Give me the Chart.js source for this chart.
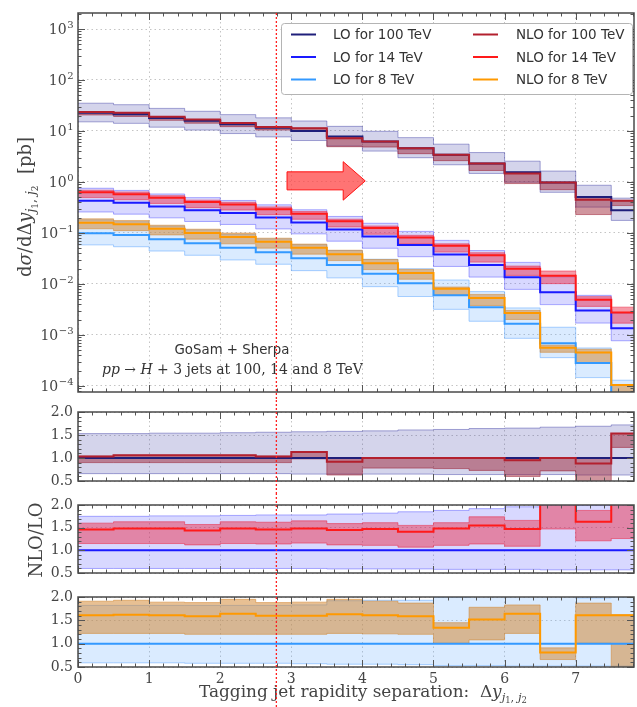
<!DOCTYPE html>
<html lang="en">
<head>
<meta charset="UTF-8">
<title>H + 3 jets: tagging jet rapidity separation</title>
<script src="https://cdn.jsdelivr.net/npm/chart.js"></script>
<style>
  html, body { margin: 0; padding: 0; background: #fff; }
  #wrap { position: relative; width: 637px; height: 707px; overflow: hidden; }
  .panel { position: absolute; left: 0; width: 637px; }
  .panel canvas { display: block; }
</style>
</head>
<body>
<div id="wrap">
  <div class="panel" style="top:0;height:400px"><canvas id="main"></canvas></div>
  <div class="panel" style="top:400px;height:93px"><canvas id="r100"></canvas></div>
  <div class="panel" style="top:493px;height:92px"><canvas id="r14"></canvas></div>
  <div class="panel" style="top:585px;height:122px"><canvas id="r8"></canvas></div>
</div>

<script>
// bin edges of the Δy histogram (0.5 wide)
const edges = [0, 0.5, 1, 1.5, 2, 2.5, 3, 3.5, 4, 4.5, 5, 5.5, 6, 6.5, 7, 7.5, 8];
const xLabels = [0, 1, 2, 3, 4, 5, 6, 7];

// LO central values, dσ/dΔy [pb]
const lo100 = [22.9, 21.4, 18.0, 15.8, 13.5, 11.6, 10.0, 7.8, 6.2, 4.6, 3.4, 2.3, 1.55, 0.98, 0.51, 0.28];
const lo14  = [0.43, 0.39, 0.33, 0.28, 0.245, 0.20, 0.16, 0.117, 0.085, 0.058, 0.038, 0.0235, 0.0135, 0.0069, 0.0030, 0.00135];
const lo8   = [0.099, 0.091, 0.075, 0.063, 0.051, 0.042, 0.032, 0.0235, 0.0158, 0.0103, 0.0060, 0.0035, 0.00165, 0.00069, 0.00028, 0.000065];

// NLO / LO (central)
const nlo100 = [1.03, 1.06, 1.06, 1.06, 1.06, 1.03, 1.13, 0.92, 1.00, 1.00, 1.00, 1.00, 0.95, 1.00, 0.88, 1.53];
const nlo14  = [1.46, 1.48, 1.48, 1.44, 1.48, 1.46, 1.48, 1.45, 1.47, 1.41, 1.48, 1.55, 1.47, 2.10, 1.63, 2.05];
const nlo8   = [1.61, 1.62, 1.61, 1.59, 1.64, 1.60, 1.60, 1.63, 1.61, 1.59, 1.34, 1.52, 1.64, 0.81, 1.61, 1.61];

// scale-variation bands, relative to the LO central value
const loLo100  = [0.66, 0.66, 0.66, 0.66, 0.66, 0.66, 0.65, 0.65, 0.65, 0.65, 0.64, 0.64, 0.64, 0.64, 0.63, 0.63];
const loHi100  = [1.53, 1.53, 1.54, 1.54, 1.55, 1.56, 1.57, 1.58, 1.59, 1.61, 1.62, 1.64, 1.65, 1.67, 1.69, 1.72];
const nloLo100 = [0.90, 0.90, 0.90, 0.90, 0.90, 0.90, 0.98, 0.63, 0.78, 0.78, 0.77, 0.73, 0.60, 0.72, 0.45, 1.23];
const nloHi100 = [1.04, 1.06, 1.06, 1.06, 1.06, 1.04, 1.14, 1.00, 1.00, 1.00, 1.00, 1.00, 1.00, 1.00, 1.00, 1.53];

const loLo14  = [0.60, 0.60, 0.60, 0.60, 0.60, 0.60, 0.60, 0.59, 0.59, 0.59, 0.58, 0.58, 0.58, 0.57, 0.57, 0.57];
const loHi14  = [1.75, 1.75, 1.76, 1.76, 1.77, 1.78, 1.78, 1.80, 1.82, 1.85, 1.88, 1.92, 1.96, 2.00, 1.99, 2.00];
const nloLo14 = [1.15, 1.15, 1.15, 1.12, 1.15, 1.14, 1.16, 1.12, 1.11, 1.07, 1.11, 1.14, 1.09, 1.47, 1.21, 1.26];
const nloHi14 = [1.60, 1.63, 1.63, 1.57, 1.63, 1.62, 1.65, 1.59, 1.61, 1.55, 1.61, 1.74, 1.66, 2.60, 1.88, 2.60];

const loLo8  = [0.59, 0.59, 0.59, 0.58, 0.58, 0.58, 0.57, 0.56, 0.56, 0.55, 0.53, 0.53, 0.52, 0.52, 0.52, 0.52];
const loHi8  = [1.82, 1.82, 1.82, 1.82, 1.82, 1.82, 1.83, 1.92, 1.93, 1.93, 1.99, 2.02, 2.05, 2.05, 1.98, 1.99];
const nloLo8 = [1.22, 1.22, 1.22, 1.20, 1.20, 1.20, 1.20, 1.22, 1.21, 1.20, 1.01, 1.08, 1.22, 0.66, 1.01, 0.30];
const nloHi8 = [1.91, 1.93, 1.89, 1.88, 1.95, 1.88, 1.89, 1.95, 1.91, 1.87, 1.45, 1.78, 1.83, 0.91, 1.87, 1.62];

const XMAX = 7.82;
const CUT = 2.79;          // red dotted line
const YMIN = 7.6e-5, YMAX = 2060;
const arrow = { tail: 2.94, neck: 3.73, tip: 4.04, bodyLo: 0.70, bodyHi: 1.58, headLo: 0.44, headHi: 2.5 };

const C = {
  lo100:  { line: '#1f1f7a', band: 'rgba(60,60,165,0.22)',   edge: 'rgba(60,60,165,0.45)' },
  lo14:   { line: '#1a1aff', band: 'rgba(90,90,255,0.24)',   edge: 'rgba(90,90,255,0.5)' },
  lo8:    { line: '#3399ff', band: 'rgba(100,170,255,0.24)', edge: 'rgba(100,170,255,0.55)' },
  nlo100: { line: '#b3202e', band: 'rgba(150,20,40,0.45)',   edge: 'rgba(150,20,40,0.5)' },
  nlo14:  { line: '#ff1a1a', band: 'rgba(235,30,60,0.45)',   edge: 'rgba(235,30,60,0.5)' },
  nlo8:   { line: '#ff9900', band: 'rgba(210,130,40,0.5)',   edge: 'rgba(210,130,40,0.5)' }
};

const SERIF = 'DejaVu Serif';
const SANS = 'DejaVu Sans';

// histogram points: left bin edge + value, closing point at the last edge
function pts(vals, scale) {
  const out = vals.map((v, i) => ({ x: edges[i], y: scale ? v * scale[i] : v }));
  out.push({ x: edges[edges.length - 1], y: out[out.length - 1].y });
  return out;
}

function stepLine(data, color, width, order, extra) {
  return Object.assign({ data, borderColor: color, borderWidth: width, stepped: true,
    pointRadius: 0, fill: false, order }, extra || {});
}

function bandSets(upper, lower, c, order) {
  return [
    stepLine(upper, c.edge, 1, order, { fill: '+1', backgroundColor: c.band }),
    stepLine(lower, c.edge, 1, order)
  ];
}

// rich text (sub/superscripts, italics)
function fontOf(p, fam, k) {
  return (p.i ? 'italic ' : '') + (p.s * k) + 'px "' + (p.f || fam) + '"';
}
function richWidth(ctx, parts, fam, k) {
  let w = 0;
  parts.forEach(p => { ctx.font = fontOf(p, fam, k); w += ctx.measureText(p.t).width; });
  return w;
}
function drawRich(ctx, parts, fam, x, y, fitWidth, align) {
  const k = fitWidth ? fitWidth / richWidth(ctx, parts, fam, 1) : 1;
  const w = richWidth(ctx, parts, fam, k);
  let cx = align === 'center' ? x - w / 2 : x;
  ctx.textAlign = 'left';
  ctx.textBaseline = 'alphabetic';
  parts.forEach(p => {
    ctx.font = fontOf(p, fam, k);
    ctx.fillText(p.t, cx, y + (p.dy || 0) * k);
    cx += ctx.measureText(p.t).width;
  });
}

const subJ = [
  { t: 'j', s: 11, i: true, dy: 4 }, { t: '1', s: 8, dy: 6 }, { t: ', ', s: 11, dy: 4 },
  { t: 'j', s: 11, i: true, dy: 4 }, { t: '2', s: 8, dy: 6 }
];
const yTitle = [{ t: 'd', s: 16 }, { t: 'σ', s: 16, i: true }, { t: '/d', s: 16 }, { t: 'Δ', s: 16 },
  { t: 'y', s: 16, i: true }, ...subJ, { t: '  [pb]', s: 16 }];
const xTitle = [{ t: 'Tagging jet rapidity separation:  Δ', s: 16 }, { t: 'y', s: 16, i: true }, ...subJ];
const procLine = [{ t: 'pp', s: 14, i: true }, { t: ' → ', s: 14 }, { t: 'H', s: 14, i: true },
  { t: ' + 3 jets at 100, 14 and 8 TeV', s: 14 }];

// minor/major tick positions
const mainYTicks = [];
for (let e = -5; e <= 3; e++) {
  for (let m = 1; m <= 9; m++) {
    const v = m * Math.pow(10, e);
    if (v >= YMIN && v <= YMAX) mainYTicks.push([v, m === 1]);
  }
}
const ratioYTicks = [];
for (let k = 5; k <= 20; k++) ratioYTicks.push([k / 10, k % 5 === 0]);

const decorPlugin = {
  id: 'decor',
  afterDraw(chart, args, o) {
    const { ctx, chartArea: a, scales: { x, y } } = chart;
    ctx.save();

    // inward ticks on all four sides
    ctx.strokeStyle = '#555';
    ctx.lineWidth = 1;
    ctx.beginPath();
    for (let k = 0; k <= Math.floor(XMAX * 5); k++) {
      const px = Math.round(x.getPixelForValue(k / 5)) + 0.5;
      const len = k % 5 === 0 ? 7 : 3.5;
      ctx.moveTo(px, a.bottom); ctx.lineTo(px, a.bottom - len);
      ctx.moveTo(px, a.top); ctx.lineTo(px, a.top + len);
    }
    o.yTicks.forEach(([v, major]) => {
      const py = Math.round(y.getPixelForValue(v)) + 0.5;
      const len = major ? 7 : 3.5;
      ctx.moveTo(a.left, py); ctx.lineTo(a.left + len, py);
      ctx.moveTo(a.right, py); ctx.lineTo(a.right - len, py);
    });
    ctx.stroke();

    ctx.lineWidth = 1.5;
    ctx.strokeStyle = '#4a4a4a';
    ctx.strokeRect(a.left, a.top, a.right - a.left, a.bottom - a.top);

    ctx.fillStyle = '#444';
    if (o.main) {
      // log tick labels 10^n
      for (let e = -4; e <= 3; e++) {
        const py = y.getPixelForValue(Math.pow(10, e));
        const ex = e < 0 ? '−' + (-e) : String(e);
        ctx.font = '10px "' + SERIF + '"';
        const wE = ctx.measureText(ex).width;
        ctx.font = '14px "' + SERIF + '"';
        const wB = ctx.measureText('10').width;
        const x0 = a.left - 5 - wE - wB;
        ctx.textAlign = 'left';
        ctx.textBaseline = 'alphabetic';
        ctx.fillText('10', x0, py + 5);
        ctx.font = '10px "' + SERIF + '"';
        ctx.fillText(ex, x0 + wB + 0.5, py - 1);
      }

      // axis title
      ctx.save();
      ctx.translate(31, 207);
      ctx.rotate(-Math.PI / 2);
      drawRich(ctx, yTitle, SERIF, 0, 0, 140, 'center');
      ctx.restore();

      // red arrow
      const ax = v => x.getPixelForValue(v), ay = v => y.getPixelForValue(v);
      const xt = ax(arrow.tail), xn = ax(arrow.neck), xp = ax(arrow.tip);
      const b1 = ay(arrow.bodyHi), b2 = ay(arrow.bodyLo), h1 = ay(arrow.headHi), h2 = ay(arrow.headLo);
      ctx.beginPath();
      ctx.moveTo(xt, b1); ctx.lineTo(xn, b1); ctx.lineTo(xn, h1); ctx.lineTo(xp, (h1 + h2) / 2);
      ctx.lineTo(xn, h2); ctx.lineTo(xn, b2); ctx.lineTo(xt, b2); ctx.closePath();
      ctx.fillStyle = 'rgba(255,70,70,0.75)';
      ctx.fill();
      ctx.strokeStyle = '#ff1010';
      ctx.lineWidth = 1;
      ctx.stroke();

      // process labels
      ctx.fillStyle = '#333';
      drawRich(ctx, [{ t: 'GoSam + Sherpa', s: 13 }], SANS, 232, 354, 115, 'center');
      drawRich(ctx, procLine, SERIF, 102, 374, 261, 'left');

      // legend
      ctx.fillStyle = '#fff';
      ctx.strokeStyle = '#b4b4b4';
      ctx.lineWidth = 1;
      ctx.beginPath();
      ctx.roundRect(281.5, 23.5, 351, 71, 3);
      ctx.fill();
      ctx.stroke();
      const items = chart.data.datasets.filter(d => d.label);
      items.forEach((d, i) => {
        const col = Math.floor(i / 3), row = i % 3;
        const lx = col ? 473 : 291, tx = col ? 516 : 333, ly = 34.5 + row * 22.5;
        ctx.strokeStyle = d.borderColor;
        ctx.lineWidth = 2;
        ctx.beginPath(); ctx.moveTo(lx, ly); ctx.lineTo(lx + 25, ly); ctx.stroke();
        ctx.fillStyle = '#333';
        ctx.font = '13.5px "' + SANS + '"';
        ctx.textBaseline = 'middle';
        ctx.fillText(d.label, tx, ly + 1);
      });
    }

    if (o.ratioTitle) {
      ctx.save();
      ctx.fillStyle = '#444';
      ctx.translate(42, 47);
      ctx.rotate(-Math.PI / 2);
      drawRich(ctx, [{ t: 'NLO/LO', s: 18 }], SERIF, 0, 0, 75, 'center');
      ctx.restore();
    }

    if (o.xTitle) {
      ctx.fillStyle = '#444';
      drawRich(ctx, xTitle, SERIF, 363, 112, 328, 'center');
    }

    // red dotted separation line
    const cx = x.getPixelForValue(CUT);
    ctx.setLineDash([2, 2]);
    ctx.strokeStyle = '#ff2020';
    ctx.lineWidth = 1.3;
    ctx.beginPath();
    ctx.moveTo(cx, o.main ? a.top : 0);
    ctx.lineTo(cx, chart.height);
    ctx.stroke();

    ctx.restore();
  }
};

const gridOpts = { color: '#c4c4c4', lineWidth: 1, drawTicks: false };
const borderOpts = { display: false, dash: [1.5, 3] };

function makeChart(id, datasets, yScale, pad, decor, showX) {
  return new Chart(document.getElementById(id), {
    type: 'line',
    data: { datasets },
    options: {
      responsive: true,
      maintainAspectRatio: false,
      animation: false,
      devicePixelRatio: 1,
      events: [],
      layout: { padding: Object.assign({ left: 0, right: 3 }, pad) },
      plugins: { legend: { display: false }, tooltip: { enabled: false }, decor },
      scales: {
        x: {
          type: 'linear', min: 0, max: XMAX,
          afterBuildTicks: s => { s.ticks = xLabels.map(v => ({ value: v })); },
          afterFit: s => { s.height = showX ? 40 : 0; },
          grid: gridOpts, border: borderOpts,
          ticks: { display: showX, autoSkip: false, maxRotation: 0, padding: 4,
            font: { family: SERIF, size: 14 }, color: '#444', callback: v => String(v) }
        },
        y: yScale
      }
    },
    plugins: [decorPlugin]
  });
}

function ratioY() {
  return {
    type: 'linear', min: 0.5, max: 2.0,
    afterBuildTicks: s => { s.ticks = [0.5, 1.0, 1.5, 2.0].map(v => ({ value: v })); },
    afterFit: s => { s.width = 78; },
    grid: gridOpts, border: borderOpts,
    ticks: { padding: 5, font: { family: SERIF, size: 14, lineHeight: 1 }, color: '#444',
      callback: v => v.toFixed(1) }
  };
}

function ratioSets(loLo, loHi, nloLo, nloHi, nlo, cLo, cNlo) {
  return [
    ...bandSets(pts(loHi), pts(loLo), cLo, 6),
    ...bandSets(pts(nloHi), pts(nloLo), cNlo, 5),
    stepLine(edges.map(x => ({ x, y: 1 })), cLo.line, 2, 2),
    stepLine(pts(nlo), cNlo.line, 2, 1)
  ];
}

// main panel
const mainSets = [
  ...bandSets(pts(loHi100, lo100), pts(loLo100, lo100), C.lo100, 6),
  ...bandSets(pts(loHi14, lo14), pts(loLo14, lo14), C.lo14, 6),
  ...bandSets(pts(loHi8, lo8), pts(loLo8, lo8), C.lo8, 6),
  ...bandSets(pts(nloHi100, lo100), pts(nloLo100, lo100), C.nlo100, 5),
  ...bandSets(pts(nloHi14, lo14), pts(nloLo14, lo14), C.nlo14, 5),
  ...bandSets(pts(nloHi8, lo8), pts(nloLo8, lo8), C.nlo8, 5),
  stepLine(pts(lo100), C.lo100.line, 2, 2, { label: 'LO for 100 TeV' }),
  stepLine(pts(lo14), C.lo14.line, 2, 2, { label: 'LO for 14 TeV' }),
  stepLine(pts(lo8), C.lo8.line, 2, 2, { label: 'LO for 8 TeV' }),
  stepLine(pts(nlo100, lo100), C.nlo100.line, 2, 1, { label: 'NLO for 100 TeV' }),
  stepLine(pts(nlo14, lo14), C.nlo14.line, 2, 1, { label: 'NLO for 14 TeV' }),
  stepLine(pts(nlo8, lo8), C.nlo8.line, 2, 1, { label: 'NLO for 8 TeV' })
];

makeChart('main', mainSets, {
  type: 'logarithmic', min: YMIN, max: YMAX,
  afterBuildTicks: s => { s.ticks = [1e-4, 1e-3, 1e-2, 1e-1, 1, 10, 100, 1000].map(v => ({ value: v })); },
  afterFit: s => { s.width = 78; },
  grid: gridOpts, border: borderOpts,
  ticks: { display: false }
}, { top: 13, bottom: 8 }, { main: true, yTicks: mainYTicks }, false);

makeChart('r100', ratioSets(loLo100, loHi100, nloLo100, nloHi100, nlo100, C.lo100, C.nlo100),
  ratioY(), { top: 9, bottom: 8 }, { yTicks: ratioYTicks }, false);

makeChart('r14', ratioSets(loLo14, loHi14, nloLo14, nloHi14, nlo14, C.lo14, C.nlo14),
  ratioY(), { top: 8, bottom: 10 }, { yTicks: ratioYTicks, ratioTitle: true }, false);

makeChart('r8', ratioSets(loLo8, loHi8, nloLo8, nloHi8, nlo8, C.lo8, C.nlo8),
  ratioY(), { top: 8, bottom: 0 }, { yTicks: ratioYTicks, xTitle: true }, true);
</script>
</body>
</html>
